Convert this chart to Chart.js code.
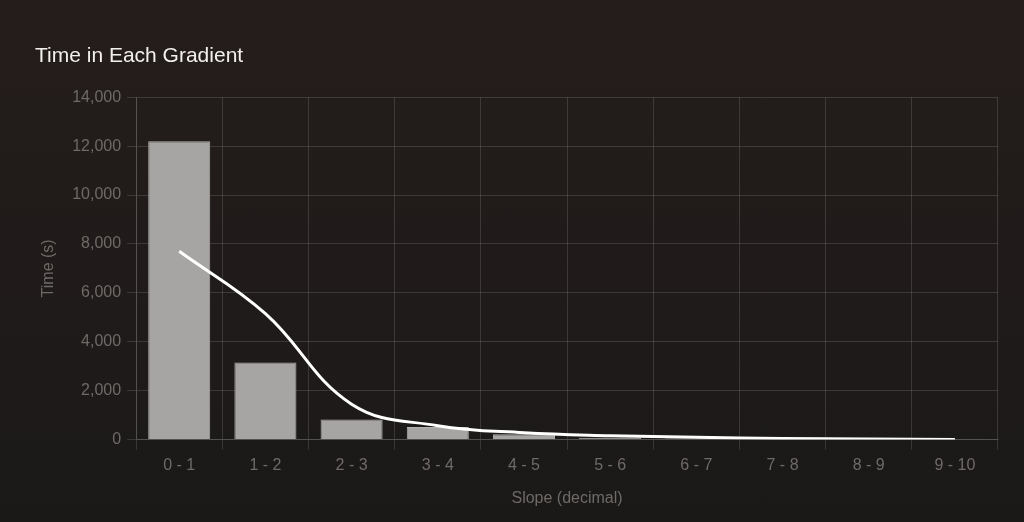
<!DOCTYPE html>
<html>
<head>
<meta charset="utf-8">
<title>Time in Each Gradient</title>
<script src="https://cdn.jsdelivr.net/npm/chart.js@4/dist/chart.umd.min.js"></script>
<style>
  html, body { margin: 0; padding: 0; }
  body {
    width: 1024px; height: 522px; overflow: hidden;
    background: linear-gradient(180deg, #241d1b 0%, #1f1b1a 60%, #1a1918 100%);
  }
  #wrap { position: relative; width: 1024px; height: 522px; }
</style>
</head>
<body>
<div id="wrap"><canvas id="gradientChart"></canvas></div>
<script>
// ===== DADOS =====
const slopes = ["0 - 1", "1 - 2", "2 - 3", "3 - 4", "4 - 5", "5 - 6", "6 - 7", "7 - 8", "8 - 9", "9 - 10"];
const timeBars = [12200, 3150, 820, 520, 220, 80, 40, 25, 15, 10];
const timeLine = [7700, 5150, 1450, 570, 280, 160, 95, 45, 20, 5];

const gridColor = "rgba(255,255,255,0.13)";
const tickColor = "#6e6a68";
const font = "'Liberation Sans', Arial, sans-serif";

new Chart(document.getElementById("gradientChart"), {
  data: {
    labels: slopes,
    datasets: [
      {
        type: "line",
        data: timeLine,
        borderColor: "#ffffff",
        borderWidth: 3,
        tension: 0.4,
        pointRadius: 0,
        fill: false
      },
      {
        type: "bar",
        data: timeBars,
        backgroundColor: "#a7a5a4",
        borderColor: "#b3b1b0",
        borderWidth: 1
      }
    ]
  },
  options: {
    responsive: true,
    maintainAspectRatio: false,
    animation: false,
    layout: { padding: { left: 35, right: 26, top: 44, bottom: 10 } },
    plugins: {
      legend: { display: false },
      tooltip: { enabled: false },
      title: {
        display: true,
        text: "Time in Each Gradient",
        align: "start",
        color: "#f2f0ef",
        font: { family: font, size: 21, weight: "normal" },
        padding: { top: 0, bottom: 28 }
      }
    },
    scales: {
      x: {
        grid: { color: gridColor, tickLength: 10 },
        border: { color: gridColor },
        ticks: { color: tickColor, font: { family: font, size: 16 }, padding: 6 },
        title: {
          display: true,
          text: "Slope (decimal)",
          color: tickColor,
          font: { family: font, size: 16 },
          padding: { top: 8 }
        }
      },
      y: {
        min: 0,
        max: 14000,
        grid: { color: gridColor, tickLength: 9 },
        border: { color: gridColor },
        ticks: { stepSize: 2000, color: tickColor, font: { family: font, size: 16 }, padding: 6 },
        title: {
          display: true,
          text: "Time (s)",
          color: tickColor,
          font: { family: font, size: 16 },
          padding: { top: 4, bottom: 8 }
        }
      }
    }
  }
});
</script>
</body>
</html>
